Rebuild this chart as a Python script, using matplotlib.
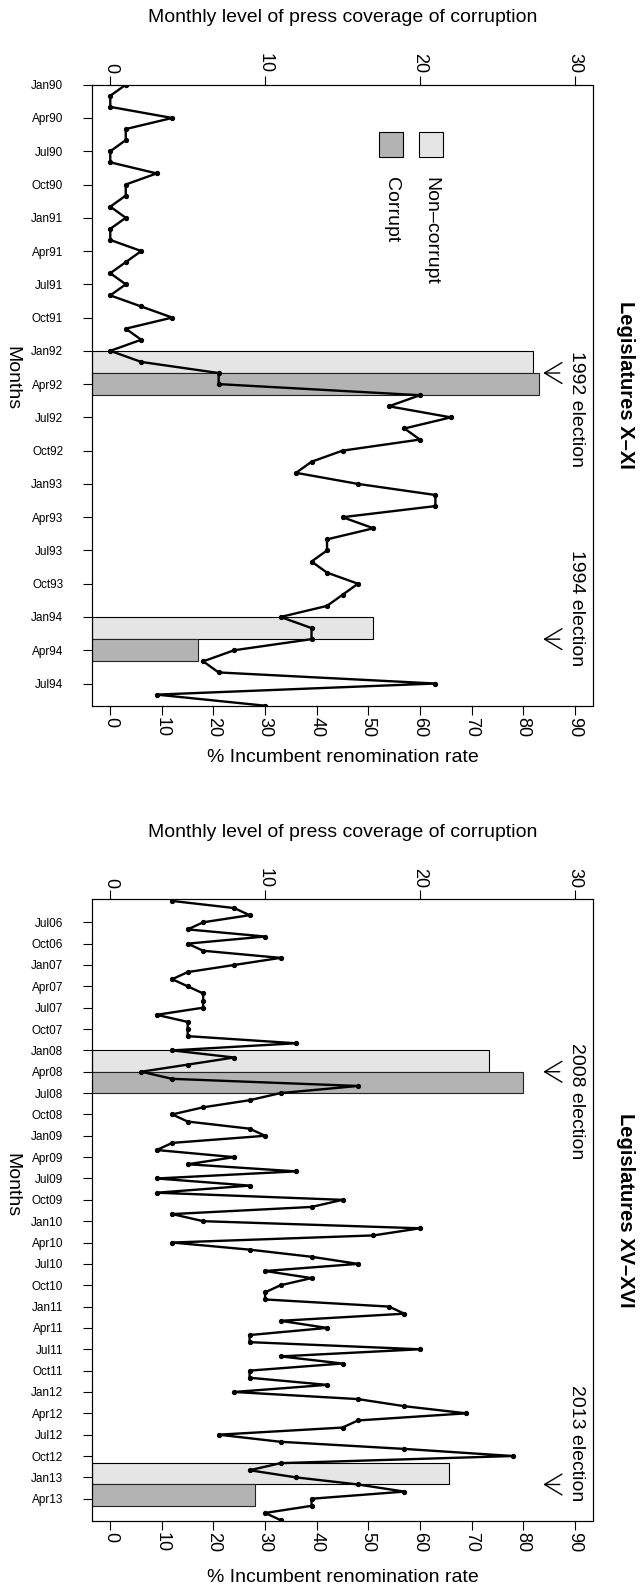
# Renomination rates vs. press coverage of corruption, two legislature periods
import numpy as np
import pandas as pd
import matplotlib
matplotlib.use("Agg")
import matplotlib.pyplot as plt
from matplotlib.patches import Rectangle

plt.rcParams["font.family"] = ["Liberation Sans", "DejaVu Sans"]

# 1. DATA
# monthly press coverage of corruption (top axis)
start_1 = "1990-01"
coverage_1 = [1, 0, 0, 4, 1, 1, 0, 0, 3, 1, 1, 0,
              1, 0, 0, 2, 1, 0, 1, 0, 2, 4, 1, 2,
              0, 2, 7, 7, 20, 18, 22, 19, 20, 15, 13, 12,
              16, 21, 21, 15, 17, 14, 14, 13, 14, 16, 15, 14,
              11, 13, 13, 8, 6, 7, 21, 3, 10]

start_2 = "2006-04"
coverage_2 = [4, 8, 9, 6, 5, 10, 5, 6, 11,
              8, 5, 4, 5, 6, 6, 6, 3, 5, 5, 5, 12,
              4, 8, 5, 2, 4, 16, 11, 9, 6, 4, 5, 9,
              10, 4, 3, 8, 5, 12, 3, 9, 3, 15, 13, 4,
              6, 20, 17, 4, 9, 13, 16, 10, 13, 11, 10, 10,
              18, 19, 11, 14, 9, 9, 20, 11, 15, 9, 9, 14,
              8, 16, 19, 23, 16, 15, 7, 11, 19, 26, 11, 9,
              12, 16, 19, 13, 13, 10, 11]

# % incumbent renomination rate around each election (bottom axis)
elections_1 = ["1992-03", "1994-03"]
election_names_1 = ["1992 election", "1994 election"]
noncorrupt_1 = [82, 51]
corrupt_1 = [83, 17]

elections_2 = ["2008-04", "2013-02"]
election_names_2 = ["2008 election", "2013 election"]
noncorrupt_2 = [73.3, 65.6]
corrupt_2 = [80.0, 28.1]

titles = ["Legislatures X\u2013XI", "Legislatures XV\u2013XVI"]

GREY_NC = "#E5E5E5"
GREY_C = "#B3B3B3"
W, H = 640, 1585


def month_idx(start, date):
    return (pd.Period(date, "M") - pd.Period(start, "M")).n


def draw_panel(fig, top, bottom, start, coverage, elections, names, nc, co,
               span, label_starts, ylims, tick_range, title, title_y,
               months_y, top_lab_y, bot_lab_y, legend=False):
    ax = fig.add_axes([91.7 / W, 1 - bottom / H, 501.6 / W, (bottom - top) / H])
    ax.set_xlim(-3.6, 93.6)
    ax.set_ylim(ylims[1], ylims[0])

    # bars: non-corrupt before the election month, corrupt after it
    for e, v_nc, v_c in zip(elections, nc, co):
        m = month_idx(start, e)
        ax.barh(m - span, v_nc + 3.6, height=span, left=-3.6, align="edge",
                color=GREY_NC, edgecolor="black", linewidth=0.8, zorder=1)
        ax.barh(m, v_c + 3.6, height=span, left=-3.6, align="edge",
                color=GREY_C, edgecolor="#222222", linewidth=0.8, zorder=1)
        ax.annotate("", xy=(83.9, m), xytext=(87.1, m),
                    arrowprops=dict(arrowstyle="->,head_length=1.25,head_width=0.75",
                                    mutation_scale=10, shrinkA=0, shrinkB=0,
                                    lw=1.0, color="black"))

    for name, ls in zip(names, label_starts):
        ax.text(90.4, month_idx(start, ls), name, rotation=-90,
                rotation_mode="anchor", ha="left", va="center", fontsize=14)

    ax.set_xticks(np.arange(0, 91, 10))
    ax.tick_params(axis="x", direction="out", length=6.5, width=0.8,
                   labelsize=13, labelrotation=-90, pad=1.5)

    dates = pd.period_range(start, periods=len(coverage), freq="M")
    ticks = list(range(tick_range[0], tick_range[1] + 1, 3))
    ax.set_yticks(ticks)
    ax.set_yticklabels([dates[i].strftime("%b%y") for i in ticks])
    ax.tick_params(axis="y", direction="out", length=6.5, width=0.8,
                   labelsize=8.5, pad=14)
    for s in ax.spines.values():
        s.set_linewidth(0.8)

    ax2 = ax.twiny()
    ax2.set_xlim(-1.2, 31.2)
    ax2.plot(coverage, np.arange(len(coverage)), "-o", color="black",
             lw=1.7, ms=2.8, zorder=3)
    ax2.set_xticks([0, 10, 20, 30])
    ax2.tick_params(axis="x", direction="out", length=6.5, width=0.8,
                    labelsize=13, labelrotation=-90, pad=1.5)
    for s in ax2.spines.values():
        s.set_linewidth(0.8)

    if legend:
        for x0, col, lab in [(0.573, GREY_C, "Corrupt"),
                             (0.6525, GREY_NC, "Non\u2013corrupt")]:
            ax2.add_patch(Rectangle((x0, 0.8836), 0.048, 0.0402,
                                    transform=ax2.transAxes, facecolor=col,
                                    edgecolor="black", linewidth=0.8))
            ax2.text(x0 + 0.024, 0.8514, lab, transform=ax2.transAxes,
                     rotation=-90, rotation_mode="anchor", ha="left",
                     va="center", fontsize=14)

    cx = 342.5 / W
    fig.text(cx, 1 - top_lab_y / H, "Monthly level of press coverage of corruption",
             ha="center", va="center", fontsize=14)
    fig.text(cx, 1 - bot_lab_y / H, "% Incumbent renomination rate",
             ha="center", va="center", fontsize=14)
    fig.text(12 / W, 1 - months_y / H, "Months", rotation=-90,
             ha="center", va="center", fontsize=14)
    fig.text(625 / W, 1 - title_y / H, title, rotation=-90,
             ha="center", va="center", fontsize=14.5, fontweight="bold")
    return ax, ax2


def main():
    fig = plt.figure(figsize=(W / 100, H / 100), dpi=100)

    draw_panel(fig, 84.7, 705.7, start_1, coverage_1, elections_1,
               election_names_1, noncorrupt_1, corrupt_1, 2,
               ["1992-01", "1993-07"], (0, 56), (0, 54), titles[0],
               385, 378, 17, 757, legend=True)

    draw_panel(fig, 899.3, 1521, start_2, coverage_2, elections_2,
               election_names_2, noncorrupt_2, corrupt_2, 3,
               ["2007-12", "2011-12"], (-0.23, 87.13), (3, 84), titles[1],
               1210, 1185, 832, 1577)

    fig.savefig("out.png", dpi=100)


if __name__ == "__main__":
    main()
